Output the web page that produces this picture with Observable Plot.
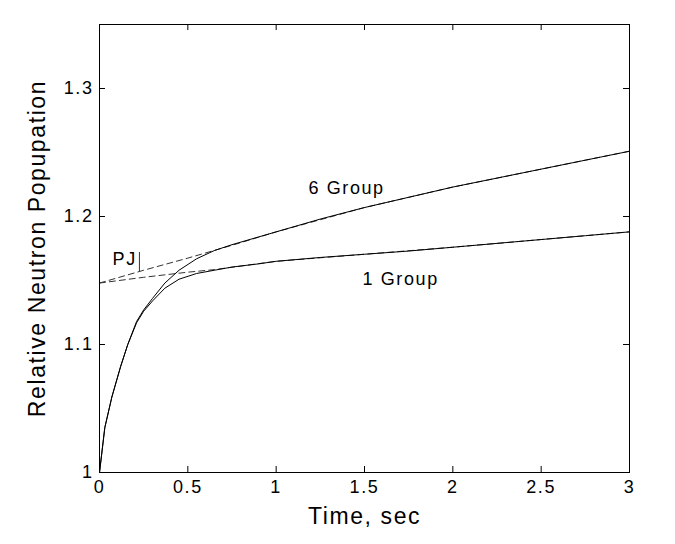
<!DOCTYPE html>
<html>
<head>
<meta charset="utf-8">
<script src="https://cdn.jsdelivr.net/npm/d3@7"></script>
<script src="https://cdn.jsdelivr.net/npm/@observablehq/plot@0.6"></script>
<style>
  html, body { margin: 0; padding: 0; background: #fff; }
  #chart svg text { letter-spacing: 1.6px; }
</style>
</head>
<body>
<div id="chart"></div>
<script>
// ---- data ----
const times = [0, 0.03, 0.07, 0.12, 0.16, 0.21, 0.25, 0.3, 0.37, 0.45, 0.55, 0.65, 0.75, 0.9, 1.0, 1.25, 1.5, 1.75, 2.0, 2.25, 2.5, 2.75, 3.0];
const group6 = [1.0, 1.035, 1.059, 1.083, 1.100, 1.118, 1.127, 1.136, 1.148, 1.158, 1.167, 1.1734, 1.178, 1.184, 1.188, 1.198, 1.207, 1.215, 1.223, 1.230, 1.237, 1.244, 1.251];
const group1 = [1.0, 1.035, 1.059, 1.083, 1.100, 1.117, 1.126, 1.134, 1.144, 1.151, 1.1555, 1.158, 1.1605, 1.163, 1.165, 1.168, 1.1705, 1.173, 1.176, 1.179, 1.182, 1.185, 1.188];

const pjTimes6 = [0, 0.25, 0.5, 0.75, 1.0, 1.5, 2.0, 2.5, 3.0];
const pj6 = [1.148, 1.158, 1.1675, 1.1775, 1.188, 1.207, 1.223, 1.237, 1.251];
const pjTimes1 = [0, 0.25, 0.5, 0.65, 1.0, 1.5, 2.0, 2.5, 3.0];
const pj1 = [1.148, 1.1525, 1.1565, 1.1585, 1.165, 1.1705, 1.176, 1.182, 1.188];

const xTicks = [0, 0.5, 1, 1.5, 2, 2.5, 3];
const yTicks = [1, 1.1, 1.2, 1.3];

const labels = [
  {t: 1.183, v: 1.2219, text: "6 Group"},
  {t: 1.489, v: 1.1508, text: "1 Group"},
  {t: 0.074, v: 1.1664, text: "PJ"}
];
const pointer = [{t: 0.226, v1: 1.157, v2: 1.1719}];

// ---- build ----
const series = (ts, vs) => ts.map((t, i) => ({t, v: vs[i]}));
const W = 675, H = 544, mL = 99, mR = 46, mT = 24, mB = 72;
const pw = W - mL - mR, ph = H - mT - mB, tk = 6;
const font = "'Liberation Sans', Arial, Helvetica, sans-serif";

const chart = Plot.plot({
  width: W, height: H,
  marginLeft: mL, marginRight: mR, marginTop: mT, marginBottom: mB,
  x: {domain: [0, 3], label: null},
  y: {domain: [1, 1.35], label: null},
  style: {fontFamily: font, background: "#fff", color: "#000"},
  marks: [
    Plot.line(series(pjTimes6, pj6), {x: "t", y: "v", stroke: "#333", strokeWidth: 1, strokeDasharray: "6,4"}),
    Plot.line(series(pjTimes1, pj1), {x: "t", y: "v", stroke: "#333", strokeWidth: 1, strokeDasharray: "6,4"}),
    Plot.line(series(times, group6), {x: "t", y: "v", stroke: "#000", strokeWidth: 1}),
    Plot.line(series(times, group1), {x: "t", y: "v", stroke: "#000", strokeWidth: 1}),
    Plot.ruleX(pointer, {x: "t", y1: "v1", y2: "v2", stroke: "#333", strokeWidth: 1}),
    Plot.text(labels, {x: "t", y: "v", text: "text", textAnchor: "start", fontSize: 18, fill: "#000"}),
    Plot.frame({stroke: "#000", strokeWidth: 1}),
    Plot.tickX(xTicks, {x: d => d, insetTop: ph - tk, stroke: "#000"}),
    Plot.tickX(xTicks, {x: d => d, insetBottom: ph - tk, stroke: "#000"}),
    Plot.tickY(yTicks, {y: d => d, insetRight: pw - tk, stroke: "#000"}),
    Plot.tickY(yTicks, {y: d => d, insetLeft: pw - tk, stroke: "#000"}),
    Plot.axisX(xTicks, {tickSize: 0, tickPadding: 8, fontSize: 18, tickFormat: d => String(d), label: null}),
    Plot.axisY(yTicks, {tickSize: 0, tickPadding: 6, fontSize: 18, tickFormat: d => String(d), label: null}),
    Plot.text(["Time, sec"], {frameAnchor: "bottom", text: d => d, dy: 51, textAnchor: "middle", lineAnchor: "bottom", fontSize: 23, fill: "#000"}),
    Plot.text(["Relative Neutron Popupation"], {frameAnchor: "left", text: d => d, dx: -55, rotate: -90, textAnchor: "middle", lineAnchor: "bottom", fontSize: 23, fill: "#000"})
  ]
});
document.getElementById("chart").appendChild(chart);
</script>
</body>
</html>
